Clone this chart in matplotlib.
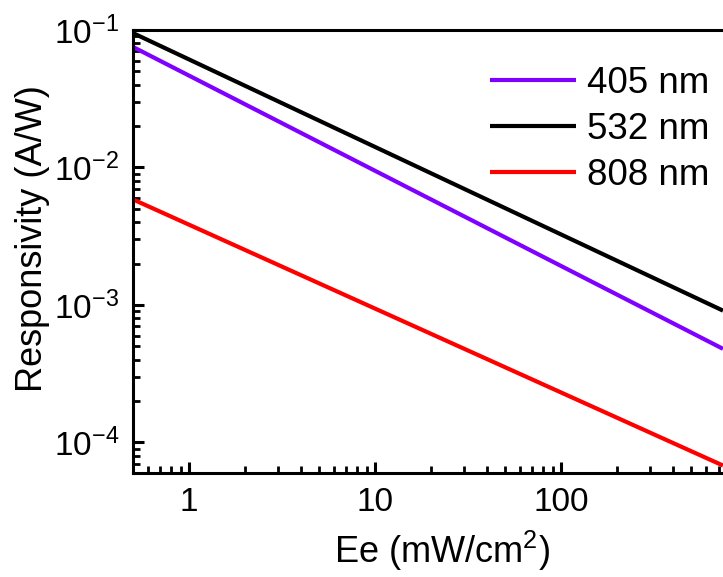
import numpy as np
import matplotlib
matplotlib.use('Agg')
import matplotlib.pyplot as plt
from matplotlib.ticker import LogLocator, FixedLocator, FixedFormatter, NullFormatter

plt.rcParams['font.family'] = ['Liberation Sans', 'DejaVu Sans']
plt.rcParams['mathtext.fontset'] = 'custom'
plt.rcParams['mathtext.rm'] = 'Liberation Sans'
plt.rcParams['mathtext.default'] = 'regular'
plt.rcParams['axes.unicode_minus'] = False

# irradiance endpoints (mW/cm2) and responsivity (A/W), straight lines on log-log
ee = [0.5, 740]
r405 = [0.0753, 4.8e-4]
r532 = [0.095, 9.1e-4]
r808 = [5.86e-3, 6.8e-5]

labels = ['405 nm', '532 nm', '808 nm']
colors = ['#8000ff', 'black', '#ff0000']

fig = plt.figure(figsize=(7.23, 5.77), dpi=100)
ax = fig.add_axes([133/723, 1-473/577, 1-133/723, (473-30)/577])

for y, lab, c in zip([r405, r532, r808], labels, colors):
    ax.plot(ee, y, color=c, lw=3, label=lab, solid_capstyle='butt')

ax.set_xscale('log')
ax.set_yscale('log')
ax.set_xlim(0.5, 740)
ax.set_ylim(6.0e-5, 0.1)

ax.xaxis.set_major_locator(FixedLocator([1, 10, 100]))
ax.xaxis.set_major_formatter(FixedFormatter(['1', '10', '100']))
ax.xaxis.set_minor_locator(LogLocator(base=10, subs=np.arange(2, 10), numticks=20))
ax.xaxis.set_minor_formatter(NullFormatter())
ax.yaxis.set_major_locator(LogLocator(base=10, numticks=10))
ax.yaxis.set_minor_locator(LogLocator(base=10, subs=np.arange(2, 10), numticks=20))
ax.yaxis.set_minor_formatter(NullFormatter())

ax.tick_params(which='major', direction='in', length=8, width=2.2, labelsize=24, pad=10)
ax.tick_params(which='minor', direction='in', length=5, width=2.0)
ax.tick_params(top=False, right=False)

for s in ['left', 'bottom', 'top']:
    ax.spines[s].set_linewidth(2.2)
ax.spines['right'].set_visible(False)

ax.set_xlabel('Ee (mW/cm$^2$)', fontsize=26)
ax.set_ylabel('Responsivity (A/W)', fontsize=26)
ax.xaxis.set_label_coords(0.524, -0.125)
ax.yaxis.set_label_coords(-0.14, 0.53)

leg = ax.legend(loc='upper right', bbox_to_anchor=(709/723, 1-66/577),
                bbox_transform=fig.transFigure, frameon=False, fontsize=26.5,
                handlelength=2.35, handletextpad=0.28, labelspacing=0.3,
                borderaxespad=0, borderpad=0)

fig.savefig('out.png', dpi=100)
